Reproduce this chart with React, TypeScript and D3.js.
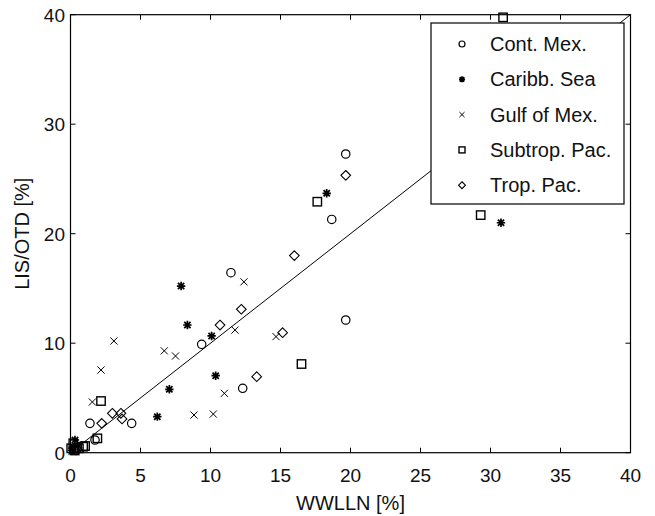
import React, { useRef, useEffect } from 'react';
import * as d3 from 'd3';

// WWLLN [%] vs LIS/OTD [%], one list of [x, y] per region
const contMex: [number, number][] = [
  [19.66, 27.28], [18.66, 21.3], [11.46, 16.44], [19.66, 12.12], [9.37, 9.9],
  [12.3, 5.88], [1.39, 2.68], [4.37, 2.68], [1.75, 1.16], [0.2, 0.3], [0.5, 0.5],
];
const caribbSea: [number, number][] = [
  [18.3, 23.69], [30.75, 21.0], [7.9, 15.22], [8.35, 11.66], [10.08, 10.66],
  [10.37, 7.03], [7.06, 5.79], [6.2, 3.29], [0.32, 1.16], [0.2, 0.5], [0.1, 0.2],
];
const gulfMex: [number, number][] = [
  [12.39, 15.6], [11.75, 11.2], [3.1, 10.2], [14.68, 10.6], [6.7, 9.3],
  [7.5, 8.83], [2.18, 7.55], [10.99, 5.42], [1.56, 4.63], [8.82, 3.44],
  [10.2, 3.53], [0.1, 0.1], [0.4, 0.6],
];
const subtropPac: [number, number][] = [
  [30.9, 39.76], [17.63, 22.92], [29.3, 21.7], [16.5, 8.1], [2.18, 4.72],
  [1.92, 1.31], [1.04, 0.61], [0.2, 0.86], [0.05, 0.4], [0.9, 0.55], [0.3, 0.2], [0.6, 0.4],
];
const tropPac: [number, number][] = [
  [19.66, 25.33], [15.99, 18.0], [12.2, 13.1], [10.68, 11.66], [15.15, 10.96],
  [13.3, 6.94], [2.99, 3.6], [3.6, 3.6], [3.68, 3.08], [2.23, 2.68], [0.5, 0.3],
];

const seriesNames = ['Cont. Mex.', 'Caribb. Sea', 'Gulf of Mex.', 'Subtrop. Pac.', 'Trop. Pac.'];
const seriesMarkers = ['circle', 'star', 'cross', 'square', 'diamond'];
const seriesData = [contMex, caribbSea, gulfMex, subtropPac, tropPac];

const xTicks = [0, 5, 10, 15, 20, 25, 30, 35, 40];
const yTicks = [0, 10, 20, 30, 40];
const fitLine: [number, number][] = [[0, 0], [40, 40]];

const App = () => {
  const ref = useRef<SVGSVGElement>(null);

  useEffect(() => {
    const W = 655;
    const H = 516;
    const left = 70.5, right = 630.5, top = 14.7, bottom = 452.7;
    const font = 'Liberation Sans, Arial, Helvetica, sans-serif';

    const svg = d3.select(ref.current);
    svg.selectAll('*').remove();
    svg.attr('width', W).attr('height', H);

    svg.append('rect').attr('width', W).attr('height', H).attr('fill', '#fff');

    const x = d3.scaleLinear().domain([0, 40]).range([left, right]);
    const y = d3.scaleLinear().domain([0, 40]).range([bottom, top]);

    // draw one marker at (cx, cy)
    const marker = (g: any, kind: string, cx: number, cy: number, s: number) => {
      const st = { stroke: '#000', fill: 'none' };
      if (kind === 'circle') {
        g.append('circle').attr('cx', cx).attr('cy', cy).attr('r', s)
          .attr('stroke', st.stroke).attr('fill', st.fill).attr('stroke-width', 1.2);
      } else if (kind === 'square') {
        g.append('rect').attr('x', cx - s).attr('y', cy - s)
          .attr('width', 2 * s).attr('height', 2 * s)
          .attr('stroke', '#000').attr('fill', 'none').attr('stroke-width', 1.4);
      } else if (kind === 'diamond') {
        const d = s * 1.15;
        g.append('path')
          .attr('d', `M${cx},${cy - d}L${cx + d},${cy}L${cx},${cy + d}L${cx - d},${cy}Z`)
          .attr('stroke', '#000').attr('fill', 'none').attr('stroke-width', 1.1);
      } else if (kind === 'cross') {
        const d = s * 0.85;
        g.append('path')
          .attr('d', `M${cx - d},${cy - d}L${cx + d},${cy + d}M${cx - d},${cy + d}L${cx + d},${cy - d}`)
          .attr('stroke', '#000').attr('stroke-width', 1);
      } else if (kind === 'star') {
        const d = s;
        const e = s * 0.75;
        g.append('path')
          .attr('d', `M${cx - d},${cy}L${cx + d},${cy}M${cx},${cy - d}L${cx},${cy + d}` +
            `M${cx - e},${cy - e}L${cx + e},${cy + e}M${cx - e},${cy + e}L${cx + e},${cy - e}`)
          .attr('stroke', '#000').attr('stroke-width', 1.7);
      }
    };

    // axes box
    svg.append('rect')
      .attr('x', left).attr('y', top)
      .attr('width', right - left).attr('height', bottom - top)
      .attr('fill', 'none').attr('stroke', '#000').attr('stroke-width', 1.2);

    // inward ticks on all four sides
    const tl = 5;
    const ticks = svg.append('g').attr('stroke', '#000').attr('stroke-width', 1);
    xTicks.forEach((t) => {
      ticks.append('line').attr('x1', x(t)).attr('x2', x(t)).attr('y1', bottom).attr('y2', bottom - tl);
      ticks.append('line').attr('x1', x(t)).attr('x2', x(t)).attr('y1', top).attr('y2', top + tl);
    });
    yTicks.forEach((t) => {
      ticks.append('line').attr('x1', left).attr('x2', left + tl).attr('y1', y(t)).attr('y2', y(t));
      ticks.append('line').attr('x1', right).attr('x2', right - tl).attr('y1', y(t)).attr('y2', y(t));
    });

    // tick labels
    svg.append('g').selectAll('text').data(xTicks).enter().append('text')
      .attr('x', (d) => x(d)).attr('y', 482)
      .attr('text-anchor', 'middle')
      .attr('font-family', font).attr('font-size', 19).attr('fill', '#111')
      .text((d) => d);
    svg.append('g').selectAll('text').data(yTicks).enter().append('text')
      .attr('x', 65).attr('y', (d) => y(d) + 7)
      .attr('text-anchor', 'end')
      .attr('font-family', font).attr('font-size', 19).attr('fill', '#111')
      .text((d) => d);

    // axis labels
    svg.append('text')
      .attr('x', (left + right) / 2).attr('y', 510)
      .attr('text-anchor', 'middle')
      .attr('font-family', font).attr('font-size', 20).attr('fill', '#111')
      .text('WWLLN [%]');
    svg.append('text')
      .attr('transform', `translate(29,${(top + bottom) / 2}) rotate(-90)`)
      .attr('text-anchor', 'middle')
      .attr('font-family', font).attr('font-size', 20).attr('fill', '#111')
      .text('LIS/OTD [%]');

    // regression line
    svg.append('path')
      .datum(fitLine)
      .attr('d', d3.line<[number, number]>().x((d) => x(d[0])).y((d) => y(d[1])))
      .attr('stroke', '#000').attr('stroke-width', 1).attr('fill', 'none');

    // data points
    const pts = svg.append('g');
    seriesData.forEach((data, i) => {
      data.forEach(([vx, vy]) => marker(pts, seriesMarkers[i], x(vx), y(vy), 4.2));
    });

    // legend
    const lg = svg.append('g');
    lg.append('rect')
      .attr('x', 431).attr('y', 23).attr('width', 193).attr('height', 181)
      .attr('fill', '#fff').attr('stroke', '#000').attr('stroke-width', 1.2);
    seriesNames.forEach((name, i) => {
      const cy = 44 + i * 35.3;
      marker(lg, seriesMarkers[i], 462, cy, 3);
      lg.append('text')
        .attr('x', 490).attr('y', cy + 7)
        .attr('font-family', font).attr('font-size', 20).attr('fill', '#111')
        .text(name);
    });
  }, []);

  return <svg ref={ref} style={{ position: 'absolute', left: 0, top: 0 }} />;
};

export default App;
